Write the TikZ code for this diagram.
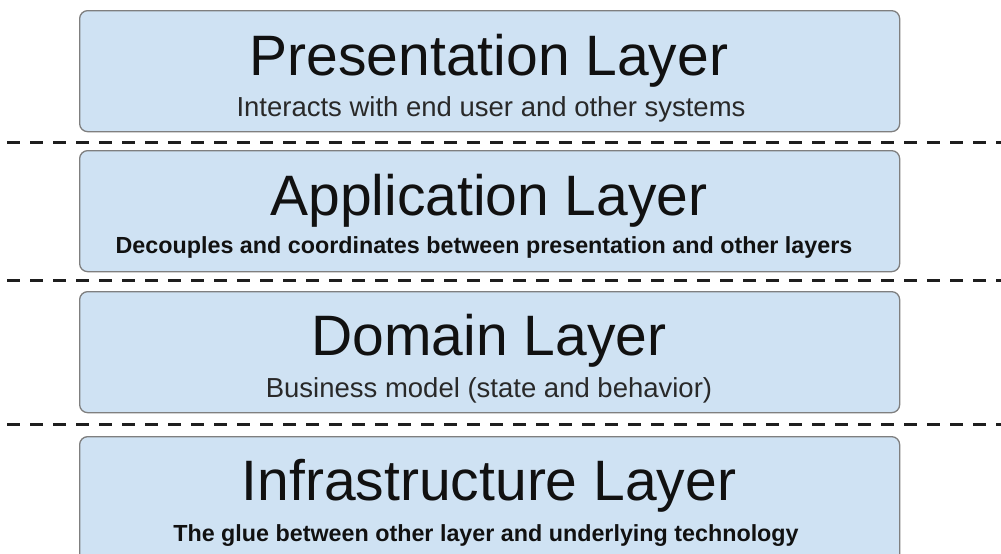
\documentclass[tikz,border=0pt]{standalone}
\usepackage{fontspec}
\setmainfont{Liberation Sans}
\definecolor{boxfill}{HTML}{CFE2F3}
\definecolor{boxline}{HTML}{7F7F7F}
\definecolor{sepline}{HTML}{1E1E1E}
\definecolor{txt}{HTML}{111111}
\begin{document}
\begin{tikzpicture}[x=1pt,y=-1pt,
  layerbox/.style={draw=boxline, fill=boxfill, line width=1.3pt, rounded corners=8pt,
    minimum width=820pt, minimum height=121pt, inner sep=0pt, anchor=north west},
  titletext/.style={anchor=base, inner sep=0pt, text=txt, font=\fontsize{57}{60}\selectfont},
  subtext/.style={anchor=base, inner sep=0pt, text=txt!90!white, font=\fontsize{27.5}{30}\selectfont},
  subbold/.style={anchor=base, inner sep=0pt, text=txt, font=\bfseries\fontsize{23.3}{26}\selectfont},
  sepdash/.style={draw=sepline, line width=3pt, dash pattern=on 13pt off 10pt}]
\useasboundingbox (0,0) rectangle (1001,554);
\clip (0,0) rectangle (1001,554);
\fill[white] (0,0) rectangle (1001,554);
% boxes
\node[layerbox] (pres) at (79,10) {};
\node[layerbox] (app) at (79,150) {};
\node[layerbox] (dom) at (79,291) {};
\node[layerbox, minimum height=140pt] (infra) at (79,436) {};
% texts
\node[titletext] (presT) at (489,75) {Presentation Layer};
\node[subtext] (presS) at (491,116) {Interacts with end user and other systems};
\node[titletext] (appT) at (489,215) {Application Layer};
\node[subbold] (appS) at (484,253) {Decouples and coordinates between presentation and other layers};
\node[titletext] (domT) at (489,355) {Domain Layer};
\node[subtext] (domS) at (489,397) {Business model (state and behavior)};
\node[titletext] (infT) at (489,500) {Infrastructure Layer};
\node[subbold] (infS) at (486,541) {The glue between other layer and underlying technology};
% separators
\coordinate (s1a) at (7,142); \coordinate (s1b) at (1001,142);
\coordinate (s2a) at (7,280); \coordinate (s2b) at (1001,280);
\coordinate (s3a) at (7,424); \coordinate (s3b) at (1001,424);
\draw[sepdash] (s1a) -- (s1b);
\draw[sepdash] (s2a) -- (s2b);
\draw[sepdash] (s3a) -- (s3b);
\end{tikzpicture}
\end{document}
